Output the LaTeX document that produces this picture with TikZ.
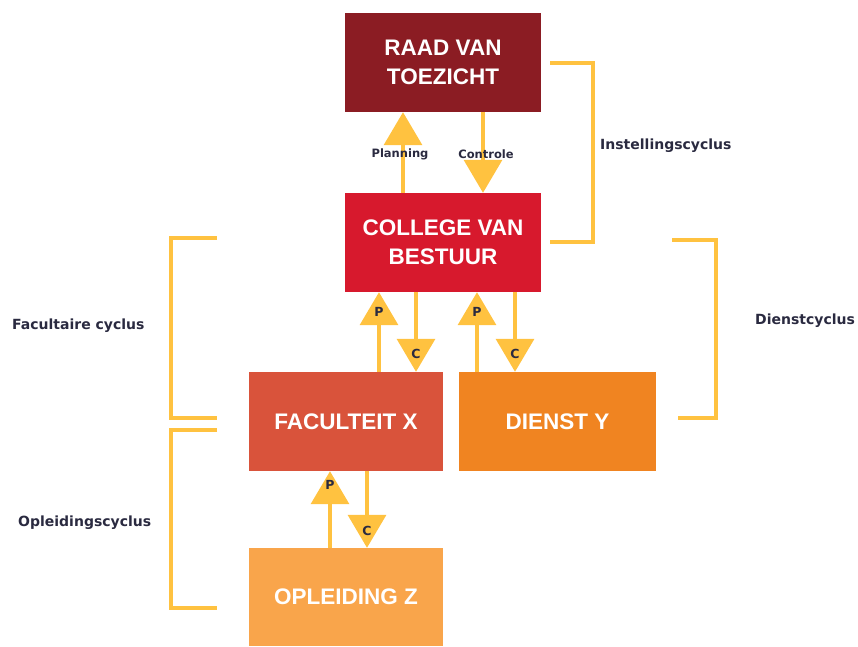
\documentclass[tikz,border=0pt]{standalone}
\usepackage{fontspec}
\setmainfont{DejaVu Sans}
\newfontfamily\boxfont{Liberation Sans}
\usetikzlibrary{arrows.meta}
\definecolor{raad}{HTML}{8B1C23}
\definecolor{cvb}{HTML}{D7192D}
\definecolor{fac}{HTML}{D9533B}
\definecolor{dienst}{HTML}{F08421}
\definecolor{opl}{HTML}{F9A54B}
\definecolor{geel}{HTML}{FFC240}
\definecolor{lbl}{HTML}{2A2A40}
\tikzset{
  box/.style={draw=none, minimum width=196pt, minimum height=99pt, inner sep=0pt,
    text=white, font=\boxfont\fontsize{22.5}{29}\selectfont\bfseries, align=center},
  flow/.style={geel, line width=3.5pt, -{Triangle[width=38pt,length=33pt]}},
  brack/.style={geel, line width=3.5pt},
  tri/.style={font=\fontsize{12.5}{14}\selectfont\bfseries, text=lbl, inner sep=0pt},
  pc/.style={font=\fontsize{11.5}{13}\selectfont\bfseries, text=lbl, inner sep=0pt},
  cyc/.style={font=\fontsize{14}{16}\selectfont\bfseries, text=lbl, inner sep=0pt, anchor=west},
}
\begin{document}
\begin{tikzpicture}[x=1pt,y=-1pt]
\useasboundingbox (0,0) rectangle (858,646);
\node[box, fill=raad] (rvt) at (443,62.5) {RAAD VAN\\TOEZICHT};
\node[box, fill=cvb] (cvb) at (443,242.5) {COLLEGE VAN\\BESTUUR};
\node[box, fill=fac, minimum width=194pt] (fx) at (346,421.5) {FACULTEIT X};
\node[box, fill=dienst, minimum width=197pt] (dy) at (557.5,421.5) {DIENST Y};
\node[box, fill=opl, minimum width=194pt, minimum height=98pt] (oz) at (346,597) {OPLEIDING Z};

% Planning / Controle
\draw[flow] (cvb.north -| 403,0) -- (rvt.south -| 403,0);
\draw[flow] (rvt.south -| 483,0) -- (cvb.north -| 483,0);
\node[pc] (pl) at (400,154) {Planning};
\node[pc] (co) at (486,154) {Controle};

% CvB <-> Faculteit
\draw[flow] (fx.north -| 379,0) -- (cvb.south -| 379,0);
\draw[flow] (cvb.south -| 416,0) -- (fx.north -| 416,0);
\node[tri] (p1) at (379,312) {P};
\node[tri] (c1) at (416,354) {C};
% CvB <-> Dienst
\draw[flow] (dy.north -| 477,0) -- (cvb.south -| 477,0);
\draw[flow] (cvb.south -| 515,0) -- (dy.north -| 515,0);
\node[tri] (p2) at (477,312) {P};
\node[tri] (c2) at (515,354) {C};
% Faculteit <-> Opleiding
\draw[flow] (oz.north -| 330,0) -- (fx.south -| 330,0);
\draw[flow] (fx.south -| 367,0) -- (oz.north -| 367,0);
\node[tri] (p3) at (330,485) {P};
\node[tri] (c3) at (367,531) {C};

% brackets
\draw[brack] (550,63) -- (593,63) -- (593,242) -- (550,242);
\node[cyc] (ic) at (600,146) {Instellingscyclus};
\draw[brack] (672,240) -- (716,240) -- (716,418) -- (678,418);
\node[cyc] (dc) at (755,321) {Dienstcyclus};
\draw[brack] (217,238) -- (171,238) -- (171,418) -- (217,418);
\node[cyc] (fc) at (12,326) {Facultaire cyclus};
\draw[brack] (217,430) -- (171,430) -- (171,608) -- (217,608);
\node[cyc] (oc) at (18,523) {Opleidingscyclus};
\end{tikzpicture}
\end{document}
